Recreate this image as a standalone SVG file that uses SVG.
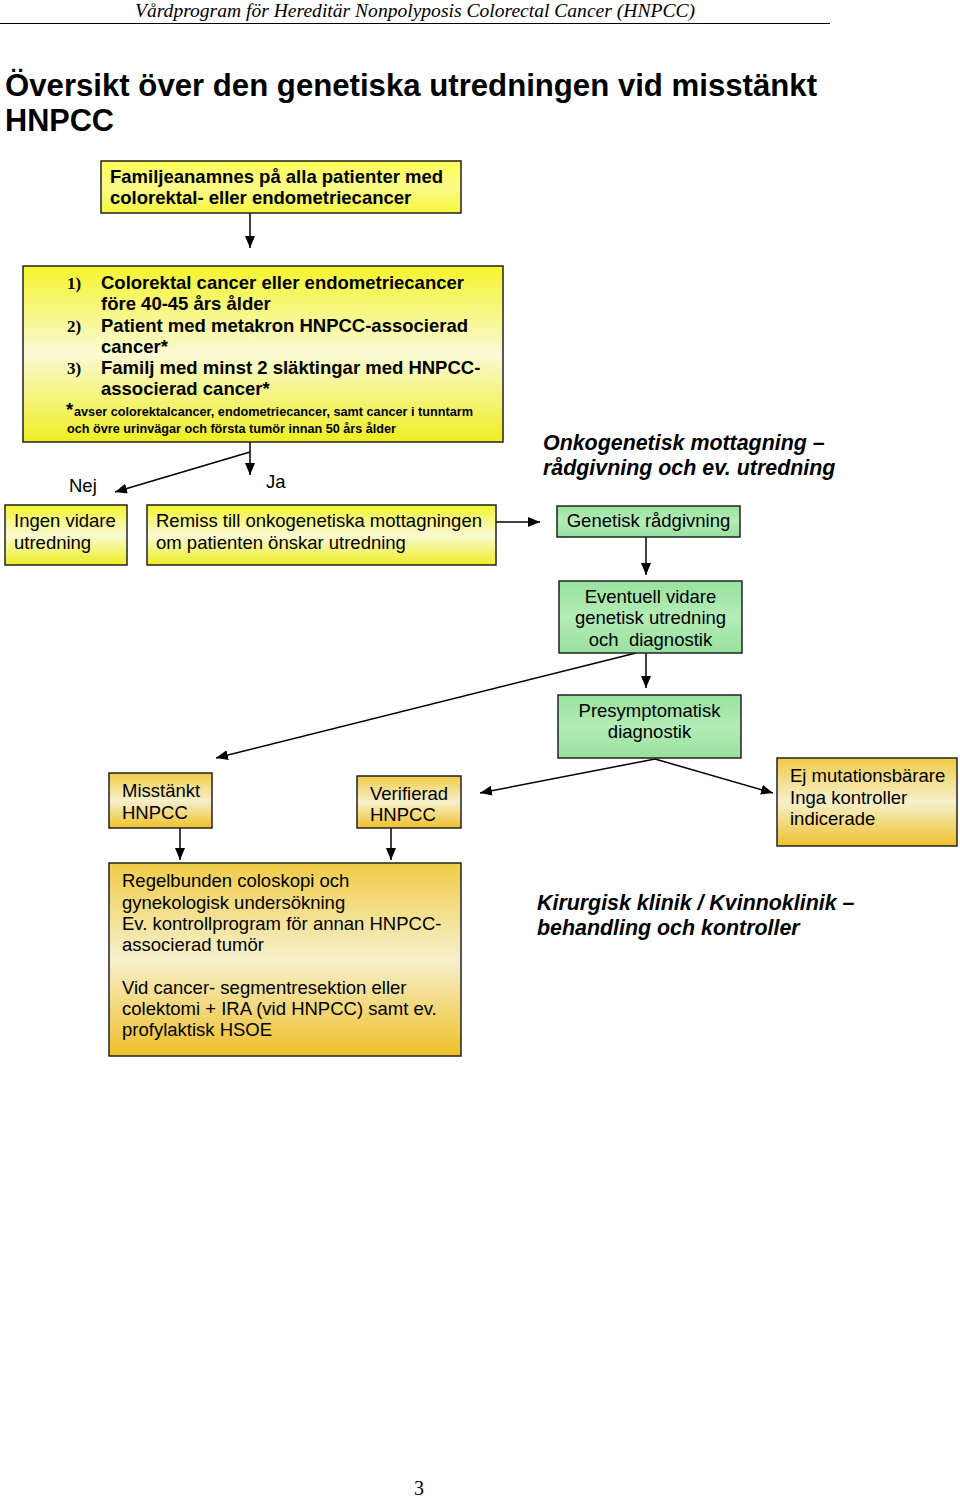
<svg xmlns="http://www.w3.org/2000/svg" width="960" height="1499" viewBox="0 0 960 1499">
<defs>
<linearGradient id="gY" x1="0" y1="0" x2="0" y2="1"><stop offset="0" stop-color="#f4f42c"/><stop offset="0.5" stop-color="#fafad4"/><stop offset="1" stop-color="#eeee22"/></linearGradient>
<linearGradient id="gY1" x1="0" y1="0" x2="0" y2="1"><stop offset="0" stop-color="#ffff55"/><stop offset="0.5" stop-color="#fbfb8a"/><stop offset="1" stop-color="#f6f640"/></linearGradient>
<linearGradient id="gG" x1="0" y1="0" x2="0" y2="1"><stop offset="0" stop-color="#98e29e"/><stop offset="0.5" stop-color="#b4ecb6"/><stop offset="1" stop-color="#98e09e"/></linearGradient>
<linearGradient id="gO" x1="0" y1="0" x2="0" y2="1"><stop offset="0" stop-color="#f0cc48"/><stop offset="0.5" stop-color="#f6f0cc"/><stop offset="1" stop-color="#efc02a"/></linearGradient>
<marker id="ah" viewBox="0 0 12 10" refX="12" refY="5" markerWidth="12" markerHeight="10" markerUnits="userSpaceOnUse" orient="auto"><path d="M0,0 L12,5 L0,10 z" fill="#000"/></marker>
<style>
.t{font-family:"Liberation Sans",Arial,sans-serif;font-size:18.5px;fill:#000}
.b{font-weight:bold}
.f{font-family:"Liberation Sans",Arial,sans-serif;font-weight:bold;font-size:12.5px;fill:#000}
.n{font-family:"Liberation Serif","Times New Roman",serif;font-weight:bold;font-size:17px}
.bi{font-family:"Liberation Sans",Arial,sans-serif;font-weight:bold;font-style:italic;font-size:21.4px}
.box{stroke:#222;stroke-width:1.5}
.c{fill:none;stroke:#000;stroke-width:1.5}
.ca{fill:none;stroke:#000;stroke-width:1.5;marker-end:url(#ah)}
</style>
</defs>
<rect width="960" height="1499" fill="#fff"/>
<g id="header">
<text x="135" y="17" font-family="Liberation Serif,'Times New Roman',serif" font-style="italic" font-size="19" textLength="560" lengthAdjust="spacingAndGlyphs">Vårdprogram för Hereditär Nonpolyposis Colorectal Cancer (HNPCC)</text>
<line x1="0" y1="23.5" x2="830" y2="23.5" stroke="#000" stroke-width="1.2"/>
</g>
<g id="title">
<text x="5" y="96" font-family="Liberation Sans,Arial,sans-serif" font-weight="bold" font-size="32" textLength="812" lengthAdjust="spacingAndGlyphs">Översikt över den genetiska utredningen vid misstänkt</text>
<text x="5" y="131" font-family="Liberation Sans,Arial,sans-serif" font-weight="bold" font-size="32" textLength="109" lengthAdjust="spacingAndGlyphs">HNPCC</text>
</g>
<g id="connectors">
<path class="ca" d="M250,213 V248"/>
<path class="c" d="M250,442 V452"/>
<path class="ca" d="M250,452 V475"/>
<path class="ca" d="M250,452 L115,492"/>
<path class="ca" d="M496,522 H540"/>
<path class="ca" d="M646,537 V575"/>
<path class="ca" d="M646,653 V688"/>
<path class="ca" d="M636,653 L216,758"/>
<path class="ca" d="M655,759 L480,793"/>
<path class="ca" d="M655,759 L773,793"/>
<path class="ca" d="M180,828 V860"/>
<path class="ca" d="M391,828 V860"/>
</g>
<g id="labels">
<text class="t" x="69" y="492">Nej</text>
<text class="t" x="266" y="488">Ja</text>
<text class="bi" x="543" y="450">Onkogenetisk mottagning –</text>
<text class="bi" x="543" y="475">rådgivning och ev. utredning</text>
<text class="bi" x="537" y="910">Kirurgisk klinik / Kvinnoklinik –</text>
<text class="bi" x="537" y="935">behandling och kontroller</text>
</g>
<g id="n-familj">
<rect class="box" x="101" y="161" width="360" height="52" fill="url(#gY1)"/>
<text class="t b" x="110" y="183">Familjeanamnes på alla patienter med</text>
<text class="t b" x="110" y="204">colorektal- eller endometriecancer</text>
</g>
<g id="n-kriterier">
<rect class="box" x="23" y="266" width="480" height="176" fill="url(#gY)"/>
<text class="n" x="67" y="289">1)</text>
<text class="t b" x="101" y="289">Colorektal cancer eller endometriecancer</text>
<text class="t b" x="101" y="310">före 40-45 års ålder</text>
<text class="n" x="67" y="332">2)</text>
<text class="t b" x="101" y="332">Patient med metakron HNPCC-associerad</text>
<text class="t b" x="101" y="353">cancer*</text>
<text class="n" x="67" y="374">3)</text>
<text class="t b" x="101" y="374">Familj med minst 2 släktingar med HNPCC-</text>
<text class="t b" x="101" y="395">associerad cancer*</text>
<text class="t b" x="66" y="416" font-size="16">*</text>
<text class="f" x="74" y="416" textLength="399" lengthAdjust="spacingAndGlyphs">avser colorektalcancer, endometriecancer, samt cancer i tunntarm</text>
<text class="f" x="67" y="433" textLength="329" lengthAdjust="spacingAndGlyphs">och övre urinvägar och första tumör innan 50 års ålder</text>
</g>
<g id="n-ingen">
<rect class="box" x="5" y="505" width="122" height="60" fill="url(#gY)"/>
<text class="t" x="14" y="527">Ingen vidare</text>
<text class="t" x="14" y="549">utredning</text>
</g>
<g id="n-remiss">
<rect class="box" x="147" y="505" width="349" height="60" fill="url(#gY)"/>
<text class="t" x="156" y="527">Remiss till onkogenetiska mottagningen</text>
<text class="t" x="156" y="549">om patienten önskar utredning</text>
</g>
<g id="n-genetisk">
<rect class="box" x="557" y="506" width="183" height="31" fill="url(#gG)"/>
<text class="t" x="648.5" y="527" text-anchor="middle">Genetisk rådgivning</text>
</g>
<g id="n-eventuell">
<rect class="box" x="559" y="581" width="183" height="72" fill="url(#gG)"/>
<text class="t" x="650.5" y="603" text-anchor="middle">Eventuell vidare</text>
<text class="t" x="650.5" y="624" text-anchor="middle">genetisk utredning</text>
<text class="t" x="650.5" y="646" text-anchor="middle" xml:space="preserve">och  diagnostik</text>
</g>
<g id="n-presymp">
<rect class="box" x="558" y="695" width="183" height="63" fill="url(#gG)"/>
<text class="t" x="649.5" y="717" text-anchor="middle">Presymptomatisk</text>
<text class="t" x="649.5" y="738" text-anchor="middle">diagnostik</text>
</g>
<g id="n-misstankt">
<rect class="box" x="109" y="773" width="103" height="55" fill="url(#gO)"/>
<text class="t" x="122" y="797">Misstänkt</text>
<text class="t" x="122" y="819">HNPCC</text>
</g>
<g id="n-verifierad">
<rect class="box" x="357" y="776" width="104" height="52" fill="url(#gO)"/>
<text class="t" x="370" y="800">Verifierad</text>
<text class="t" x="370" y="821">HNPCC</text>
</g>
<g id="n-ej">
<rect class="box" x="777" y="758" width="180" height="88" fill="url(#gO)"/>
<text class="t" x="790" y="782">Ej mutationsbärare</text>
<text class="t" x="790" y="804">Inga kontroller</text>
<text class="t" x="790" y="825">indicerade</text>
</g>
<g id="n-regelbunden">
<rect class="box" x="109" y="863" width="352" height="193" fill="url(#gO)"/>
<text class="t" x="122" y="887">Regelbunden coloskopi och</text>
<text class="t" x="122" y="909">gynekologisk undersökning</text>
<text class="t" x="122" y="930">Ev. kontrollprogram för annan HNPCC-</text>
<text class="t" x="122" y="951">associerad tumör</text>
<text class="t" x="122" y="994">Vid cancer- segmentresektion eller</text>
<text class="t" x="122" y="1015">colektomi + IRA (vid HNPCC) samt ev.</text>
<text class="t" x="122" y="1036">profylaktisk HSOE</text>
</g>
<g id="footer">
<text x="414" y="1495" font-family="Liberation Serif,'Times New Roman',serif" font-size="20">3</text>
</g>
</svg>
